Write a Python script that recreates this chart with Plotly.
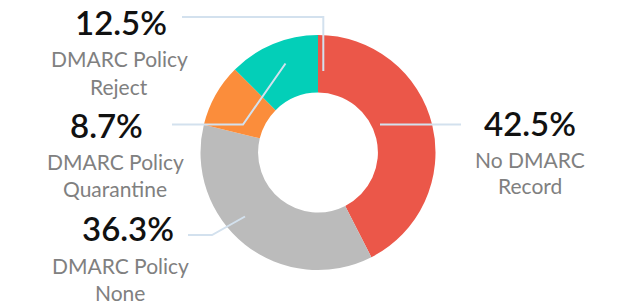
import plotly.graph_objects as go

categories = ["No DMARC Record", "DMARC Policy None", "DMARC Policy Quarantine", "DMARC Policy Reject"]
label_lines = [["No DMARC", "Record"], ["DMARC Policy", "None"], ["DMARC Policy", "Quarantine"], ["DMARC Policy", "Reject"]]
values = [42.5, 36.3, 8.7, 12.5]
colors = ["#EB5749", "#BBBBBB", "#FB8D3B", "#03CFB8"]

W, H = 637, 306
def px(x):
    return x / W
def py(y):
    return 1 - y / H

# layout positions (pixels): percent centre, label centre x, label first-line centre y
label_pos = [
    dict(pc=(530, 123), lx=530, ly=159),
    dict(pc=(127.5, 228), lx=120, ly=265),
    dict(pc=(106, 125), lx=115, ly=161.5),
    dict(pc=(121, 22), lx=119, ly=59),
]
leaders = [
    [(380, 124.5), (461, 124.5)],
    [(245, 216.5), (212, 235), (188, 235)],
    [(285.5, 63.5), (243, 124.5), (172, 124.5)],
    [(323.3, 71), (323.3, 17), (182, 17)],
]

fig = go.Figure(go.Pie(
    labels=categories, values=values, sort=False, direction="clockwise", rotation=0,
    hole=0.51, marker=dict(colors=colors, line=dict(width=0)),
    textinfo="none", showlegend=False,
    domain=dict(x=[px(200.5), px(435.5)], y=[py(270), py(35)]),
))

shapes = []
for pts in leaders:
    path = "M " + " L ".join(f"{px(x)},{py(y)}" for x, y in pts)
    shapes.append(dict(type="path", xref="paper", yref="paper", path=path,
                       line=dict(color="#D3E1EE", width=2)))

annotations = []
for v, lines, pos in zip(values, label_lines, label_pos):
    annotations.append(dict(x=px(pos["pc"][0]), y=py(pos["pc"][1]), xref="paper", yref="paper",
                            text=f"{v}%", showarrow=False, xanchor="center", yanchor="middle",
                            font=dict(family="Lato", size=33, weight=600, color="#111111")))
    for i, ln in enumerate(lines):
        annotations.append(dict(x=px(pos["lx"]), y=py(pos["ly"] + 27 * i), xref="paper", yref="paper",
                                text=ln, showarrow=False, xanchor="center", yanchor="middle",
                                font=dict(family="Lato", size=21, color="#808080")))

fig.update_layout(width=W, height=H, margin=dict(l=0, r=0, t=0, b=0),
                  paper_bgcolor="white", plot_bgcolor="white",
                  shapes=shapes, annotations=annotations)
fig.write_html("out.html")
